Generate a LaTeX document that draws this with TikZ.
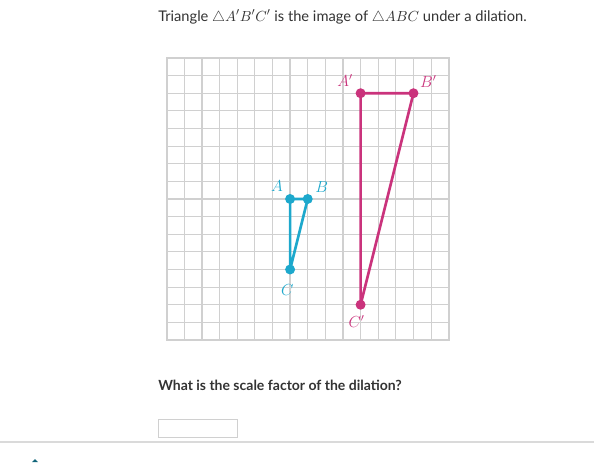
\documentclass[tikz,border=0pt]{standalone}
\usepackage{fontspec}
\setmainfont{Lato}
\usetikzlibrary{calc,positioning}

\definecolor{dilblue}{HTML}{1DA8CC}
\definecolor{dilpink}{HTML}{CA337C}
\definecolor{gridgray}{HTML}{D0D0D0}
\definecolor{textgray}{HTML}{333333}

\begin{document}
\begin{tikzpicture}[x=0.75pt,y=0.75pt]
  \useasboundingbox (0,0) rectangle (594,462);
  \tikzstyle{plain text}=[anchor=west,inner sep=0,text=textgray,font=\fontsize{11}{13}\selectfont]
  \tikzstyle{blue dot}=[circle,fill=dilblue,inner sep=0,minimum size=7.5pt]
  \tikzstyle{pink dot}=[circle,fill=dilpink,inner sep=0,minimum size=7.5pt]
  \tikzstyle{blue label}=[text=dilblue,font=\fontsize{12}{14}\selectfont,inner sep=1pt]
  \tikzstyle{pink label}=[text=dilpink,font=\fontsize{12}{14}\selectfont,inner sep=1pt]
  \tikzstyle{grid line}=[gridgray,line width=0.9pt]

  \node[plain text] (title) at (158,445)
      {Triangle $\triangle A'B'C'$ is the image of $\triangle ABC$ under a dilation.};

  \begin{scope}[shift={(166.7,122)},x=13.22pt,y=13.22pt]
    % grid
    \foreach \i in {0,...,16} {
      \draw[grid line] (\i,0) -- (\i,16);
      \draw[grid line] (0,\i) -- (16,\i);
    }
    \draw[grid line,line width=1.2pt] (0,0) rectangle (16,16);
    % original triangle
    \node[blue dot,label={[blue label,label distance=2pt]135:$A$}] (A) at (7,8) {};
    \node[blue dot,label={[blue label,label distance=2pt]40:$B$}] (B) at (8,8) {};
    \node[blue dot,label={[blue label,label distance=6pt,xshift=-2pt]below:$C$}] (C) at (7,4) {};
    \draw[dilblue,line width=2pt,line join=round] (A.center) -- (B.center) -- (C.center) -- cycle;
    % image
    \node[pink dot,label={[pink label,label distance=2pt]140:$A'$}] (Ap) at (11,14) {};
    \node[pink dot,label={[pink label,label distance=1pt]40:$B'$}] (Bp) at (14,14) {};
    \node[pink dot,label={[pink label,label distance=3pt,xshift=-3pt]below:$C'$}] (Cp) at (11,2) {};
    \draw[dilpink,line width=2pt,line join=round] (Ap.center) -- (Bp.center) -- (Cp.center) -- cycle;
  \end{scope}

  \node[plain text,font=\bfseries\fontsize{10.5}{12}\selectfont] (question) at (158,77)
      {What is the scale factor of the dilation?};
  \node[draw=gridgray,line width=0.8pt,anchor=north west,minimum width=59.5pt,minimum height=13.5pt,inner sep=0]
      (answer) at (158,43) {};
  \draw[gridgray!80,line width=0.8pt] (0,20) -- (594,20);
  \fill[dilblue!60!black] (32,0) -- (35,3) -- (38,0) -- cycle;
\end{tikzpicture}
\end{document}
